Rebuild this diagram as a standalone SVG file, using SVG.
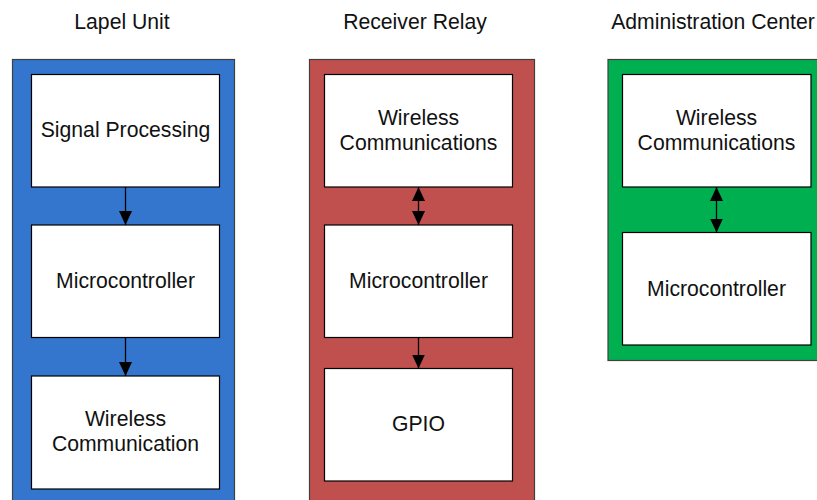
<svg xmlns="http://www.w3.org/2000/svg" width="817" height="500" viewBox="0 0 817 500">
<defs>
<marker id="ah" viewBox="0 0 14 13" refX="14" refY="6.5" markerWidth="14" markerHeight="13" markerUnits="userSpaceOnUse" orient="auto-start-reverse">
<path d="M0,0 L14,6.5 L0,13 Z" fill="#000"/>
</marker>
<style>
.t{font-family:"Liberation Sans",Arial,sans-serif;font-size:21.2px;fill:#111;text-anchor:middle}
.box{fill:#fff;stroke:#000;stroke-width:1.2}
.cont{stroke:#404040;stroke-width:1.2}
.c{stroke:#000;stroke-width:1.3;fill:none}
</style>
</defs>
<rect width="817" height="500" fill="#fff"/>
<g id="titles">
<text class="t" x="122" y="29">Lapel Unit</text>
<text class="t" x="415" y="29">Receiver Relay</text>
<text class="t" x="713" y="29">Administration Center</text>
</g>
<g id="lapel">
<rect class="cont" x="12.5" y="59.5" width="222" height="450" fill="#3476CD"/>
</g>
<g id="relay">
<rect class="cont" x="309.5" y="59.5" width="225" height="450" fill="#C0504D"/>
</g>
<g id="admin">
<rect class="cont" x="608" y="59.5" width="220" height="301" fill="#00B050"/>
</g>
<g id="lapel-sp">
<rect class="box" x="31.5" y="74.5" width="188" height="112.5"/>
<text class="t" x="125.5" y="137">Signal Processing</text>
</g>
<g id="lapel-mc">
<rect class="box" x="31.5" y="225" width="188" height="112.5"/>
<text class="t" x="125.5" y="288">Microcontroller</text>
</g>
<g id="lapel-wc">
<rect class="box" x="31.5" y="376" width="188" height="113"/>
<text class="t" x="125.5" y="426">Wireless</text>
<text class="t" x="125.5" y="451">Communication</text>
</g>
<g id="relay-wc">
<rect class="box" x="324.5" y="74.5" width="188" height="112.5"/>
<text class="t" x="418.5" y="125">Wireless</text>
<text class="t" x="418.5" y="150">Communications</text>
</g>
<g id="relay-mc">
<rect class="box" x="324.5" y="225" width="188" height="112.5"/>
<text class="t" x="418.5" y="288">Microcontroller</text>
</g>
<g id="relay-gpio">
<rect class="box" x="324.5" y="368.5" width="188" height="112.5"/>
<text class="t" x="418.5" y="431">GPIO</text>
</g>
<g id="admin-wc">
<rect class="box" x="622.5" y="74.5" width="188.5" height="112.5"/>
<text class="t" x="716.5" y="125">Wireless</text>
<text class="t" x="716.5" y="150">Communications</text>
</g>
<g id="admin-mc">
<rect class="box" x="622.5" y="232.5" width="188.5" height="112.5"/>
<text class="t" x="716.5" y="296">Microcontroller</text>
</g>
<g id="connectors">
<line class="c" x1="125.5" y1="187" x2="125.5" y2="225" marker-end="url(#ah)"/>
<line class="c" x1="125.5" y1="337.5" x2="125.5" y2="376" marker-end="url(#ah)"/>
<line class="c" x1="418.5" y1="187" x2="418.5" y2="225" marker-start="url(#ah)" marker-end="url(#ah)"/>
<line class="c" x1="418.5" y1="337.5" x2="418.5" y2="368.5" marker-end="url(#ah)"/>
<line class="c" x1="716.5" y1="187" x2="716.5" y2="232.5" marker-start="url(#ah)" marker-end="url(#ah)"/>
</g>
</svg>
